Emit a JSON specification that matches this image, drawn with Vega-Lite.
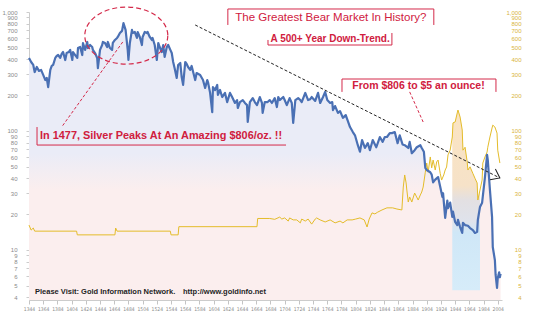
{
  "$schema": "https://vega.github.io/schema/vega-lite/v6.json",
  "width": 473,
  "height": 288,
  "autosize": {"type": "none"},
  "padding": {"left": 29, "top": 12, "right": 32, "bottom": 13},
  "background": "#ffffff",
  "config": {"view": {"stroke": null}, "font": "Liberation Sans"},
  "datasets": {
    "silver": [
      {"year":1344,"v":411},{"year":1347,"v":380},{"year":1350,"v":359},{"year":1352,"v":313},{"year":1355,"v":345},{"year":1358,"v":320},{"year":1361,"v":326},{"year":1364,"v":296},{"year":1367,"v":268},{"year":1369,"v":279},{"year":1371,"v":234},{"year":1374,"v":326},{"year":1376,"v":352},{"year":1378,"v":359},{"year":1381,"v":411},{"year":1383,"v":427},{"year":1385,"v":435},{"year":1388,"v":411},{"year":1390,"v":444},{"year":1392,"v":461},{"year":1395,"v":395},{"year":1397,"v":452},{"year":1400,"v":461},{"year":1402,"v":480},{"year":1405,"v":395},{"year":1406,"v":461},{"year":1409,"v":435},{"year":1412,"v":411},{"year":1413,"v":498},{"year":1416,"v":508},{"year":1419,"v":435},{"year":1420,"v":549},{"year":1423,"v":480},{"year":1426,"v":560},{"year":1427,"v":498},{"year":1430,"v":528},{"year":1433,"v":508},{"year":1434,"v":480},{"year":1437,"v":452},{"year":1440,"v":411},{"year":1441,"v":338},{"year":1444,"v":480},{"year":1447,"v":528},{"year":1448,"v":560},{"year":1451,"v":549},{"year":1454,"v":508},{"year":1455,"v":560},{"year":1458,"v":498},{"year":1461,"v":480},{"year":1462,"v":549},{"year":1465,"v":582},{"year":1468,"v":605},{"year":1469,"v":617},{"year":1472,"v":666},{"year":1475,"v":694},{"year":1477,"v":806},{"year":1480,"v":707},{"year":1483,"v":480},{"year":1484,"v":395},{"year":1486,"v":549},{"year":1489,"v":707},{"year":1490,"v":666},{"year":1493,"v":679},{"year":1496,"v":605},{"year":1497,"v":679},{"year":1500,"v":617},{"year":1503,"v":528},{"year":1504,"v":617},{"year":1507,"v":679},{"year":1510,"v":666},{"year":1511,"v":679},{"year":1514,"v":617},{"year":1517,"v":582},{"year":1518,"v":605},{"year":1521,"v":528},{"year":1524,"v":395},{"year":1526,"v":549},{"year":1528,"v":508},{"year":1531,"v":461},{"year":1533,"v":528},{"year":1535,"v":419},{"year":1538,"v":508},{"year":1540,"v":528},{"year":1543,"v":480},{"year":1545,"v":452},{"year":1547,"v":380},{"year":1549,"v":338},{"year":1552,"v":279},{"year":1554,"v":359},{"year":1557,"v":373},{"year":1559,"v":284},{"year":1561,"v":244},{"year":1564,"v":380},{"year":1566,"v":366},{"year":1568,"v":345},{"year":1571,"v":326},{"year":1573,"v":352},{"year":1578,"v":268},{"year":1580,"v":307},{"year":1585,"v":296},{"year":1589,"v":268},{"year":1592,"v":230},{"year":1595,"v":268},{"year":1596,"v":258},{"year":1599,"v":209},{"year":1602,"v":144},{"year":1603,"v":234},{"year":1606,"v":221},{"year":1609,"v":244},{"year":1610,"v":201},{"year":1613,"v":221},{"year":1616,"v":193},{"year":1620,"v":209},{"year":1623,"v":175},{"year":1627,"v":209},{"year":1630,"v":193},{"year":1634,"v":172},{"year":1637,"v":182},{"year":1638,"v":156},{"year":1641,"v":175},{"year":1645,"v":182},{"year":1648,"v":172},{"year":1651,"v":165},{"year":1652,"v":119},{"year":1655,"v":175},{"year":1659,"v":189},{"year":1662,"v":175},{"year":1665,"v":165},{"year":1669,"v":193},{"year":1672,"v":172},{"year":1673,"v":142},{"year":1676,"v":175},{"year":1680,"v":175},{"year":1683,"v":182},{"year":1686,"v":172},{"year":1690,"v":189},{"year":1693,"v":159},{"year":1695,"v":193},{"year":1697,"v":182},{"year":1702,"v":193},{"year":1704,"v":182},{"year":1707,"v":165},{"year":1711,"v":189},{"year":1714,"v":172},{"year":1716,"v":117},{"year":1719,"v":182},{"year":1723,"v":189},{"year":1726,"v":182},{"year":1728,"v":175},{"year":1733,"v":209},{"year":1737,"v":182},{"year":1740,"v":185},{"year":1742,"v":193},{"year":1747,"v":179},{"year":1751,"v":209},{"year":1754,"v":172},{"year":1758,"v":193},{"year":1761,"v":213},{"year":1764,"v":182},{"year":1768,"v":172},{"year":1771,"v":175},{"year":1772,"v":150},{"year":1775,"v":162},{"year":1779,"v":142},{"year":1782,"v":147},{"year":1786,"v":129},{"year":1790,"v":136},{"year":1796,"v":108},{"year":1800,"v":98},{"year":1803,"v":92},{"year":1807,"v":76},{"year":1810,"v":67},{"year":1813,"v":84},{"year":1817,"v":72},{"year":1821,"v":79},{"year":1824,"v":69},{"year":1828,"v":84},{"year":1833,"v":73},{"year":1838,"v":89},{"year":1842,"v":81},{"year":1845,"v":89},{"year":1848,"v":89},{"year":1852,"v":96},{"year":1855,"v":96},{"year":1859,"v":98},{"year":1863,"v":79},{"year":1866,"v":92},{"year":1870,"v":77},{"year":1873,"v":76},{"year":1878,"v":72},{"year":1880,"v":81},{"year":1883,"v":65},{"year":1887,"v":69},{"year":1890,"v":73},{"year":1895,"v":76},{"year":1897,"v":72},{"year":1900,"v":67},{"year":1902,"v":49},{"year":1904,"v":47},{"year":1909,"v":45},{"year":1911,"v":43},{"year":1913,"v":37},{"year":1916,"v":39},{"year":1920,"v":41},{"year":1923,"v":34},{"year":1926,"v":28},{"year":1927,"v":30},{"year":1930,"v":18.6},{"year":1933,"v":26},{"year":1934,"v":22.5},{"year":1937,"v":25},{"year":1940,"v":19},{"year":1941,"v":21},{"year":1944,"v":17.2},{"year":1947,"v":16.2},{"year":1948,"v":17.9},{"year":1951,"v":15.6},{"year":1954,"v":13.9},{"year":1955,"v":16.9},{"year":1958,"v":16.2},{"year":1962,"v":16},{"year":1965,"v":15.3},{"year":1969,"v":14.7},{"year":1972,"v":13.9},{"year":1975,"v":14.2},{"year":1976,"v":17.9},{"year":1979,"v":23},{"year":1982,"v":25},{"year":1986,"v":41},{"year":1989,"v":63},{"year":1990,"v":57},{"year":1993,"v":32},{"year":1996,"v":19},{"year":1997,"v":10.6},{"year":2000,"v":8.2},{"year":2001,"v":6.2},{"year":2003,"v":4.8},{"year":2004,"v":5.8},{"year":2006,"v":6.5},{"year":2007,"v":5.9},{"year":2008,"v":6.3}
    ],
    "ratio": [
      {"year":1344,"v":16.2},{"year":1347,"v":14.7},{"year":1350,"v":15.3},{"year":1352,"v":14.4},{"year":1411,"v":14.4},{"year":1412,"v":13.4},{"year":1465,"v":13.4},{"year":1466,"v":15.3},{"year":1468,"v":14.4},{"year":1543,"v":14.4},{"year":1544,"v":13.4},{"year":1554,"v":13.4},{"year":1555,"v":15.7},{"year":1665,"v":15.7},{"year":1666,"v":18.4},{"year":1683,"v":18.4},{"year":1690,"v":18.1},{"year":1697,"v":18.9},{"year":1700,"v":18.2},{"year":1704,"v":18.6},{"year":1709,"v":17.5},{"year":1711,"v":18.6},{"year":1716,"v":17.9},{"year":1721,"v":17.9},{"year":1726,"v":16.9},{"year":1728,"v":18.2},{"year":1733,"v":17.5},{"year":1737,"v":18.2},{"year":1742,"v":16.5},{"year":1747,"v":18.2},{"year":1749,"v":18.6},{"year":1754,"v":17.9},{"year":1761,"v":17.2},{"year":1768,"v":17.9},{"year":1775,"v":16.9},{"year":1782,"v":17.5},{"year":1786,"v":16.9},{"year":1792,"v":17.9},{"year":1799,"v":17.9},{"year":1804,"v":18.2},{"year":1810,"v":18.6},{"year":1816,"v":17.9},{"year":1820,"v":15.6},{"year":1823,"v":18.2},{"year":1827,"v":20.5},{"year":1831,"v":20.1},{"year":1835,"v":20.8},{"year":1841,"v":21.7},{"year":1848,"v":22.6},{"year":1856,"v":22.6},{"year":1862,"v":22.1},{"year":1869,"v":21.7},{"year":1871,"v":33.8},{"year":1873,"v":42.7},{"year":1875,"v":36.6},{"year":1876,"v":31.9},{"year":1878,"v":25.3},{"year":1880,"v":27.9},{"year":1883,"v":25.3},{"year":1887,"v":30.1},{"year":1892,"v":26.3},{"year":1895,"v":29},{"year":1897,"v":30.7},{"year":1899,"v":33.8},{"year":1902,"v":45},{"year":1904,"v":53.8},{"year":1906,"v":45},{"year":1909,"v":60.5},{"year":1911,"v":49},{"year":1913,"v":57},{"year":1916,"v":47},{"year":1918,"v":55},{"year":1920,"v":57},{"year":1923,"v":44},{"year":1925,"v":38.7},{"year":1928,"v":42.7},{"year":1930,"v":47},{"year":1932,"v":49.8},{"year":1934,"v":63},{"year":1937,"v":69},{"year":1940,"v":89},{"year":1941,"v":117},{"year":1944,"v":119},{"year":1947,"v":142},{"year":1948,"v":150},{"year":1951,"v":131},{"year":1954,"v":102},{"year":1955,"v":69},{"year":1958,"v":73},{"year":1961,"v":55},{"year":1962,"v":47},{"year":1965,"v":50},{"year":1969,"v":44},{"year":1972,"v":40},{"year":1975,"v":36.6},{"year":1976,"v":26.3},{"year":1979,"v":31.9},{"year":1982,"v":38.7},{"year":1983,"v":53.8},{"year":1986,"v":60.5},{"year":1989,"v":66.6},{"year":1990,"v":73},{"year":1993,"v":89},{"year":1996,"v":106},{"year":1997,"v":112},{"year":2000,"v":108},{"year":2003,"v":96},{"year":2004,"v":69},{"year":2007,"v":53.8}
    ]
  },
  "encoding": {
    "x": {"field": "year", "type": "quantitative", "scale": {"domain": [1344, 2010], "nice": false, "zero": false},
      "axis": {"orient": "bottom", "title": null, "values": [1344,1364,1384,1404,1424,1444,1464,1484,1504,1524,1544,1564,1584,1604,1624,1644,1664,1684,1704,1724,1744,1764,1784,1804,1824,1844,1864,1884,1904,1924,1944,1964,1984,2004], "format": "d", "labelFont": "DejaVu Sans Condensed", "labelFontSize": 5, "labelColor": "#8a8a8a", "labelPadding": 2, "tickSize": 4, "tickColor": "#c4c4c4", "domainColor": "#cccccc", "grid": false, "labelOverlap": false, "labelFlush": false}},
    "y": {"field": "v", "type": "quantitative", "scale": {"type": "log", "domain": [3.8, 1000], "nice": false}, "axis": null}
  },
  "layer": [
    {
      "data": {"name": "silver"},
      "mark": {"type": "area", "stroke": null, "fill": {"gradient": "linear", "x1": 0, "y1": 0, "x2": 0, "y2": 1, "stops": [{"offset": 0, "color": "#eaecf7"}, {"offset": 0.47, "color": "#eaecf7"}, {"offset": 0.6, "color": "#fbeeee"}, {"offset": 1, "color": "#fbeeee"}]}},
      "encoding": {"y2": {"datum": 3.8}}
    },
    {
      "data": {"name": "ratio"},
      "transform": [{"filter": "datum.year >= 1940 && datum.year <= 1979"}],
      "mark": {"type": "area", "stroke": null, "fill": {"gradient": "linear", "x1": 0, "y1": 0, "x2": 0, "y2": 1, "stops": [{"offset": 0, "color": "#fbe4c2"}, {"offset": 0.42, "color": "#f6e2c8"}, {"offset": 0.5, "color": "#e3e0e2"}, {"offset": 0.62, "color": "#dfe3ec"}, {"offset": 0.68, "color": "#cfe7f7"}, {"offset": 1, "color": "#d6ecf9"}]}},
      "encoding": {"y2": {"datum": 4.6}}
    },
    {
      "data": {"name": "ratio"},
      "mark": {"type": "line", "color": "#e4bc2a", "strokeWidth": 1},
      "encoding": {
        "y": {"field": "v", "type": "quantitative", "scale": {"type": "log", "domain": [3.8, 1000], "nice": false},
          "axis": {"orient": "right", "title": null, "values": [4,5,6,7,8,9,10,20,30,40,50,60,70,80,90,100,200,300,400,500,600,700,800,900,1000], "format": ",d", "labelColor": "#d9b43c", "labelFontSize": 6, "labelAlign": "right", "labelPadding": 19, "ticks": false, "domain": false, "grid": false, "labelOverlap": false, "labelFlush": false}}
      }
    },
    {
      "data": {"name": "silver"},
      "mark": {"type": "line", "color": "#4a70b4", "strokeWidth": 2.2, "strokeJoin": "round"},
      "encoding": {
        "y": {"field": "v", "type": "quantitative", "scale": {"type": "log", "domain": [3.8, 1000], "nice": false},
          "axis": {"orient": "left", "title": null, "values": [4,5,6,7,8,9,10,20,30,40,50,60,70,80,90,100,200,300,400,500,600,700,800,900,1000], "format": ",d", "labelColor": "#8a8a8a", "labelFontSize": 6, "labelPadding": 9, "tickSize": 3, "tickColor": "#cccccc", "domainColor": "#cccccc", "grid": false, "labelOverlap": false, "labelFlush": false}}
      }
    },
    {
      "data": {"values": [{"year": 1578, "v": 778, "year2": 2007, "v2": 40.3}]},
      "mark": {"type": "rule", "color": "#222222", "strokeWidth": 1, "strokeDash": [3, 2]},
      "encoding": {"x2": {"field": "year2"}, "y2": {"field": "v2"}}
    },
    {
      "data": {"values": [{"year": 2007, "v": 40.3}]},
      "mark": {"type": "point", "shape": "M -1 -0.75 L 0 0 L -1 0.75", "size": 256, "angle": 26.6, "filled": false, "stroke": "#222222", "strokeWidth": 1, "opacity": 1},
      "encoding": {}
    },
    {
      "data": {"values": [{"year": 1476, "v": 560, "year2": 1390, "v2": 108}, {"year": 1880, "v": 213, "year2": 1899, "v2": 119}]},
      "mark": {"type": "rule", "color": "#d42a4a", "strokeWidth": 1, "strokeDash": [3, 2]},
      "encoding": {"x2": {"field": "year2"}, "y2": {"field": "v2"}}
    },
    {
      "data": {"values": [{"year": 1481, "v": 634}]},
      "mark": {"type": "point", "shape": "M 1 0 C 1 0.3794 0.5523 0.687 0 0.687 C -0.5523 0.687 -1 0.3794 -1 0 C -1 -0.3794 -0.5523 -0.687 0 -0.687 C 0.5523 -0.687 1 -0.3794 1 0 Z", "size": 6889, "filled": false, "stroke": "#d42a4a", "strokeWidth": 1.2, "strokeDash": [5, 3], "opacity": 1},
      "encoding": {}
    },
    {
      "data": {"values": [
        {"year": 1624, "v": 1060, "year2": 1914, "v2": 1060},
        {"year": 1624, "v": 1060, "year2": 1624, "v2": 778},
        {"year": 1914, "v": 1060, "year2": 1914, "v2": 778},
        {"year": 1680.5, "v": 528, "year2": 1855, "v2": 528},
        {"year": 1855, "v": 666, "year2": 1855, "v2": 528},
        {"year": 1680.5, "v": 582, "year2": 1680.5, "v2": 528},
        {"year": 1784.7, "v": 273.5, "year2": 2001.5, "v2": 273.5},
        {"year": 1784.7, "v": 273.5, "year2": 1784.7, "v2": 213},
        {"year": 2001.5, "v": 273.5, "year2": 2001.5, "v2": 213},
        {"year": 1355.3, "v": 108, "year2": 1355.3, "v2": 76.2},
        {"year": 1355.3, "v": 76.2, "year2": 1705.9, "v2": 76.2}
      ]},
      "mark": {"type": "rule", "color": "#d42a4a", "strokeWidth": 1},
      "encoding": {"x2": {"field": "year2"}, "y2": {"field": "v2"}}
    },
    {
      "data": {"values": [{"label": "The Greatest Bear Market In History?", "year": 1769, "v": 890}]},
      "mark": {"type": "text", "color": "#d0203e", "fontSize": 11.5, "align": "center", "baseline": "middle"},
      "encoding": {"text": {"field": "label"}}
    },
    {
      "data": {"values": [{"label": "A 500+ Year Down-Trend.", "year": 1768, "v": 588}]},
      "mark": {"type": "text", "color": "#d0203e", "fontSize": 10, "fontWeight": "bold", "align": "center", "baseline": "middle"},
      "encoding": {"text": {"field": "label"}}
    },
    {
      "data": {"values": [{"label": "From $806 to $5 an ounce!", "year": 1892.4, "v": 239}]},
      "mark": {"type": "text", "color": "#d0203e", "fontSize": 10.5, "fontWeight": "bold", "align": "center", "baseline": "middle"},
      "encoding": {"text": {"field": "label"}}
    },
    {
      "data": {"values": [{"label": "In 1477, Silver Peaks At An Amazing $806/oz. !!", "year": 1359.5, "v": 90.8}]},
      "mark": {"type": "text", "color": "#d0203e", "fontSize": 10.9, "fontWeight": "bold", "align": "left", "baseline": "middle"},
      "encoding": {"text": {"field": "label"}}
    },
    {
      "data": {"values": [{"label": "Please Visit: Gold Information Network.", "year": 1352.4, "v": 4.44}, {"label": "http://www.goldinfo.net", "year": 1560.8, "v": 4.44}]},
      "mark": {"type": "text", "color": "#1e1e1e", "fontSize": 7.5, "fontWeight": "bold", "align": "left", "baseline": "middle"},
      "encoding": {"text": {"field": "label"}}
    }
  ],
  "resolve": {"axis": {"y": "independent"}}
}
